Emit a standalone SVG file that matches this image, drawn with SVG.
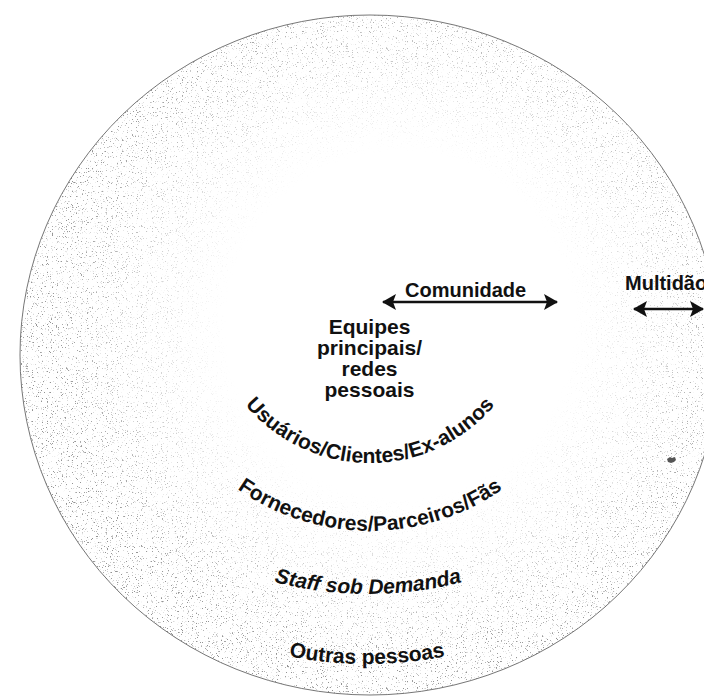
<svg xmlns="http://www.w3.org/2000/svg" width="704" height="697" viewBox="0 0 704 697">
  <style>
    .t { font-family: "Liberation Sans", Arial, sans-serif; font-weight: bold; fill: #111; }
    .c { text-anchor: middle; }
    .arrow { stroke: #111; stroke-width: 2.5; fill: none; }
  </style>
  <defs>
    <radialGradient id="fade" gradientUnits="userSpaceOnUse" cx="400" cy="325" r="370">
      <stop offset="0" stop-color="#000" stop-opacity="0"/>
      <stop offset="0.47" stop-color="#000" stop-opacity="0"/>
      <stop offset="0.75" stop-color="#000" stop-opacity="0.5"/>
      <stop offset="0.95" stop-color="#000" stop-opacity="0.85"/>
    </radialGradient>
    <filter id="grain" filterUnits="userSpaceOnUse" x="0" y="0" width="704" height="697" color-interpolation-filters="sRGB">
      <feTurbulence type="fractalNoise" baseFrequency="0.8" numOctaves="2" seed="7" result="noise"/>
      <feColorMatrix in="noise" type="matrix" values="0 0 0 0 0.5  0 0 0 0 0.5  0 0 0 0 0.5  9 0 0 0 -5.7" result="dots"/>
      <feComposite in="dots" in2="SourceAlpha" operator="in"/>
    </filter>
    <marker id="head" viewBox="0 0 14 16" refX="13" refY="8" markerWidth="14" markerHeight="16" markerUnits="userSpaceOnUse" orient="auto-start-reverse">
      <path d="M0,0 L14,8 L0,16 L3,8 Z" fill="#111"/>
    </marker>
    <path id="arc1" d="M 216.8 355.7 A 163 163 0 0 0 523.2 355.7"/>
    <path id="arc2" d="M 170 415.5 A 231 231 0 0 0 570 415.5"/>
    <path id="arc3" d="M 181 543.9 A 374 374 0 0 0 555 543.9"/>
    <path id="arc4" d="M 167 610.4 A 400 400 0 0 0 567 610.4"/>
  </defs>

  <rect width="704" height="697" fill="#fff"/>

  <g id="ring">
    <ellipse cx="370" cy="355" rx="350" ry="340" fill="url(#fade)" filter="url(#grain)"/>
    <ellipse cx="370" cy="355" rx="350" ry="340" fill="none" stroke="#666" stroke-width="0.9"/>
    <path d="M667,459 l3,-2 l2,1 l3,-1 l1,3 l-2,2 l-3,1 l-3,-1 z" fill="#555"/>
  </g>

  <g id="connectors">
    <line class="arrow" x1="383" y1="302" x2="557" y2="302" marker-start="url(#head)" marker-end="url(#head)"/>
    <line class="arrow" x1="634" y1="309" x2="703" y2="309" marker-start="url(#head)" marker-end="url(#head)"/>
  </g>

  <g id="comunidade">
    <text class="t" x="405" y="297" font-size="20">Comunidade</text>
  </g>
  <g id="multidao">
    <text class="t" x="625" y="290" font-size="20">Multidão</text>
  </g>

  <g id="equipes">
    <text class="t c" font-size="21" x="369.5" y="334">Equipes</text>
    <text class="t c" font-size="21" x="369.5" y="355">principais/</text>
    <text class="t c" font-size="21" x="369.5" y="376">redes</text>
    <text class="t c" font-size="21" x="369.5" y="397">pessoais</text>
  </g>

  <g id="usuarios">
    <text class="t c" font-size="21"><textPath href="#arc1" startOffset="50%">Usuários/Clientes/Ex-alunos</textPath></text>
  </g>
  <g id="fornecedores">
    <text class="t c" font-size="21"><textPath href="#arc2" startOffset="50%">Fornecedores/Parceiros/Fãs</textPath></text>
  </g>
  <g id="staff">
    <text class="t c" font-size="21" font-style="italic"><textPath href="#arc3" startOffset="50%">Staff sob Demanda</textPath></text>
  </g>
  <g id="outras">
    <text class="t c" font-size="21"><textPath href="#arc4" startOffset="50%">Outras pessoas</textPath></text>
  </g>
</svg>
